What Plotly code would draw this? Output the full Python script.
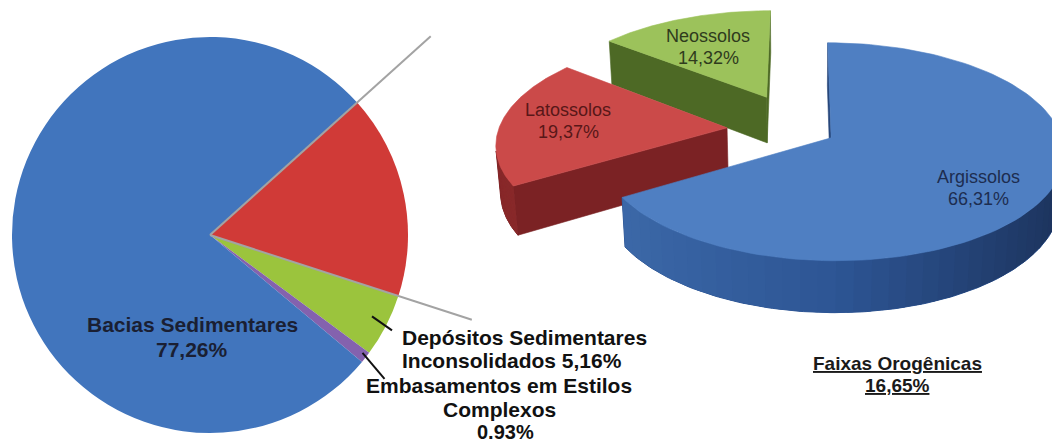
import numpy as np
import plotly.graph_objects as go

# ---------------- data ----------------
domain_labels = ["Faixas Orogênicas", "Depósitos Sedimentares Inconsolidados",
                 "Embasamentos em Estilos Complexos", "Bacias Sedimentares"]
domain_values = [16.65, 5.16, 0.93, 77.26]

soil_labels = ["Argissolos", "Latossolos", "Neossolos"]
soil_values = [66.31, 19.37, 14.32]

# ---------------- styles ----------------
domain_colors = ["#d03a37", "#9bc43d", "#8462ae", "#4175bd"]
soil_top_colors = ["#4f7fc2", "#cb4a49", "#9cc25b"]
soil_face_colors = ["#27467a", "#7b2224", "#4d6925"]
soil_side_stops = [["#3e6bab", "#2d5594", "#1b3159"],
                   ["#8c2b2c", "#7b2224", "#5e1819"],
                   ["#587a2b", "#4d6925", "#3a501c"]]
soil_text_colors = ["#1d2d50", "#581718", "#2f3b1d"]
soil_pull = [0.15, 0.325, 0.36]

W, H = 1052, 445
FONT = "Liberation Sans, Arial, sans-serif"


def pct(v, sep=","):
    return f"{v:.2f}".replace(".", sep) + "%"


def hex_rgb(c):
    c = c.lstrip("#")
    return np.array([int(c[i:i + 2], 16) for i in (0, 2, 4)], dtype=float)


def mix(stops, t):
    t = float(np.clip(t, 0, 1))
    if t <= 0.5:
        a, b, u = hex_rgb(stops[0]), hex_rgb(stops[1]), t / 0.5
    else:
        a, b, u = hex_rgb(stops[1]), hex_rgb(stops[2]), (t - 0.5) / 0.5
    r, g, bl = a + (b - a) * u
    return f"rgb({r:.0f},{g:.0f},{bl:.0f})"


fig = go.Figure()

# ---------------- left pie: geologic domains ----------------
PIE_CX, PIE_CY, PIE_R = 210, 235, 198   # pixel centre / radius
PIE_ROT = 48
fig.add_trace(go.Pie(
    labels=domain_labels, values=domain_values, sort=False,
    direction="clockwise", rotation=PIE_ROT,
    marker=dict(colors=domain_colors, line=dict(width=0)),
    textinfo="none", hoverinfo="label+value", showlegend=False,
    domain=dict(x=[(PIE_CX - PIE_R) / W, (PIE_CX + PIE_R) / W],
                y=[(H - PIE_CY - PIE_R) / H, (H - PIE_CY + PIE_R) / H]),
))


def pie_point(angle_deg, r):
    a = np.radians(angle_deg)
    return PIE_CX + r * np.sin(a), PIE_CY - r * np.cos(a)


dom_total = sum(domain_values)
dom_bounds = PIE_ROT + np.concatenate([[0], np.cumsum(domain_values)]) / dom_total * 360

shapes = []
# connector lines along both edges of the "Faixas Orogênicas" slice
for ang, reach in ((dom_bounds[0], 1.5), (dom_bounds[1], 1.39)):
    x1, y1 = pie_point(ang, PIE_R * reach)
    shapes.append(dict(type="line", xref="x", yref="y", x0=PIE_CX, y0=PIE_CY,
                       x1=x1, y1=y1, line=dict(color="#a3a3a3", width=2),
                       layer="above"))

# leader lines for the two small slices
for i, (r0, dx, dy) in ((1, (0.92, 20, 14)), (2, (0.98, 22, 26))):
    mid = (dom_bounds[i] + dom_bounds[i + 1]) / 2
    xs, ys = pie_point(mid, PIE_R * r0)
    shapes.append(dict(type="line", xref="x", yref="y", x0=xs, y0=ys - 2,
                       x1=xs + dx, y1=ys - 2 + dy,
                       line=dict(color="#111111", width=2), layer="above"))

# ---------------- right pie: soils, drawn as an exploded 3-D pie ----------------
PHI = np.radians(27.4)
DIST, FOCAL = 7.0, 1600.0
ORIGIN = (801.0, 130.0)
THICK = 0.235
cam = np.array([0.0, -DIST * np.cos(PHI), DIST * np.sin(PHI)])


def project(x, y, z):
    x, y, z = (np.asarray(v, dtype=float) for v in (x, y, z))
    d = DIST + y * np.cos(PHI) - z * np.sin(PHI)
    return ORIGIN[0] + FOCAL * x / d, ORIGIN[1] - FOCAL * (y * np.sin(PHI) + z * np.cos(PHI)) / d


def poly(x, y, z, color, lw=0.6):
    sx, sy = project(x, y, z)
    fig.add_trace(go.Scatter(x=np.append(sx, sx[0]), y=np.append(sy, sy[0]),
                             mode="lines", fill="toself", fillcolor=color,
                             line=dict(color=color, width=lw),
                             hoverinfo="skip", showlegend=False))


def facing(p, n):
    return np.dot(cam - p, n) > 0


def wall_visible(ox, oy, t):
    n = np.array([np.sin(t), np.cos(t), 0])
    p = np.array([ox + np.sin(t), oy + np.cos(t), -THICK / 2])
    return facing(p, n)


soil_total = sum(soil_values)
soil_bounds = np.concatenate([[0], np.cumsum(soil_values)]) / soil_total * 360

order = sorted(range(len(soil_values)),
               key=lambda i: -np.cos(np.radians((soil_bounds[i] + soil_bounds[i + 1]) / 2)))

for i in order:
    a0, a1 = np.radians(soil_bounds[i]), np.radians(soil_bounds[i + 1])
    m = (a0 + a1) / 2
    ox, oy = soil_pull[i] * np.sin(m), soil_pull[i] * np.cos(m)

    # radial cut faces
    for a, n in ((a0, np.array([-np.cos(a0), np.sin(a0), 0])),
                 (a1, np.array([np.cos(a1), -np.sin(a1), 0]))):
        rx, ry = ox + np.sin(a), oy + np.cos(a)
        p = np.array([(ox + rx) / 2, (oy + ry) / 2, -THICK / 2])
        if facing(p, n):
            poly([ox, rx, rx, ox], [oy, ry, ry, oy], [0, 0, -THICK, -THICK],
                 soil_face_colors[i])

    # curved outer wall: one base piece, then shaded strips on top of it
    th = np.linspace(a0, a1, 241)
    vis = np.array([wall_visible(ox, oy, t) for t in th])
    if vis.any():
        tv = th[vis]
        bx = np.concatenate([ox + np.sin(tv), ox + np.sin(tv[::-1])])
        by = np.concatenate([oy + np.cos(tv), oy + np.cos(tv[::-1])])
        bz = np.concatenate([np.zeros(len(tv)), np.full(len(tv), -THICK)])
        poly(bx, by, bz, soil_side_stops[i][1], lw=1)
        strips = np.linspace(tv[0], tv[-1], 36)
        step = strips[1] - strips[0] if len(strips) > 1 else 0
        for k in range(len(strips) - 1):
            t0 = strips[k]
            t1 = min(strips[k + 1] + 0.35 * step, tv[-1])
            tm = (strips[k] + strips[k + 1]) / 2
            seg = np.linspace(t0, t1, 4)
            sx_ = np.concatenate([ox + np.sin(seg), ox + np.sin(seg[::-1])])
            sy_ = np.concatenate([oy + np.cos(seg), oy + np.cos(seg[::-1])])
            sz_ = np.concatenate([np.zeros(4), np.full(4, -THICK)])
            poly(sx_, sy_, sz_, mix(soil_side_stops[i], (1 + np.sin(tm)) / 2), lw=0)

    # top face
    arc = np.linspace(a0, a1, 120)
    xs = np.concatenate([[ox], ox + np.sin(arc)])
    ys = np.concatenate([[oy], oy + np.cos(arc)])
    poly(xs, ys, np.zeros_like(xs), soil_top_colors[i])

# ---------------- text ----------------
annotations = []


def label(text, x, y, size, color, bold=False, anchor="center", under=False):
    font = dict(family=FONT, size=size, color=color,
                weight="bold" if bold else "normal")
    if under:
        font["lineposition"] = "under"
    annotations.append(dict(text=text, x=x, y=y, xref="x", yref="y",
                            xanchor=anchor, yanchor="middle", showarrow=False,
                            font=font))


dark = "#1a1f33"
label(domain_labels[3], 192, 324, 21, dark, bold=True)
label(pct(domain_values[3]), 192, 349, 21, dark, bold=True)
label("Depósitos Sedimentares", 400, 337, 21, "#111111", bold=True, anchor="left")
label("Inconsolidados " + pct(domain_values[1]), 400, 360, 21, "#111111",
      bold=True, anchor="left")
label("Embasamentos em Estilos", 499, 385, 21, "#111111", bold=True)
label("Complexos", 499, 409, 21, "#111111", bold=True)
label(pct(domain_values[2], "."), 505, 432, 20, "#111111", bold=True)
label(domain_labels[0], 897, 363, 19, "#1a1a1a", bold=True, under=True)
label(pct(domain_values[0]), 897, 385, 19, "#1a1a1a", bold=True, under=True)

soil_label_pos = [(978, 177), (568, 110), (708, 36)]
for i, (lx, ly) in enumerate(soil_label_pos):
    label(soil_labels[i], lx, ly, 18, soil_text_colors[i])
    label(pct(soil_values[i]), lx, ly + 22, 18, soil_text_colors[i])

fig.update_layout(
    width=W, height=H, margin=dict(l=0, r=0, t=0, b=0),
    paper_bgcolor="white", plot_bgcolor="white", showlegend=False,
    xaxis=dict(range=[0, W], visible=False, fixedrange=True),
    yaxis=dict(range=[H, 0], visible=False, fixedrange=True),
    shapes=shapes, annotations=annotations,
)

fig.write_html("out.html")
